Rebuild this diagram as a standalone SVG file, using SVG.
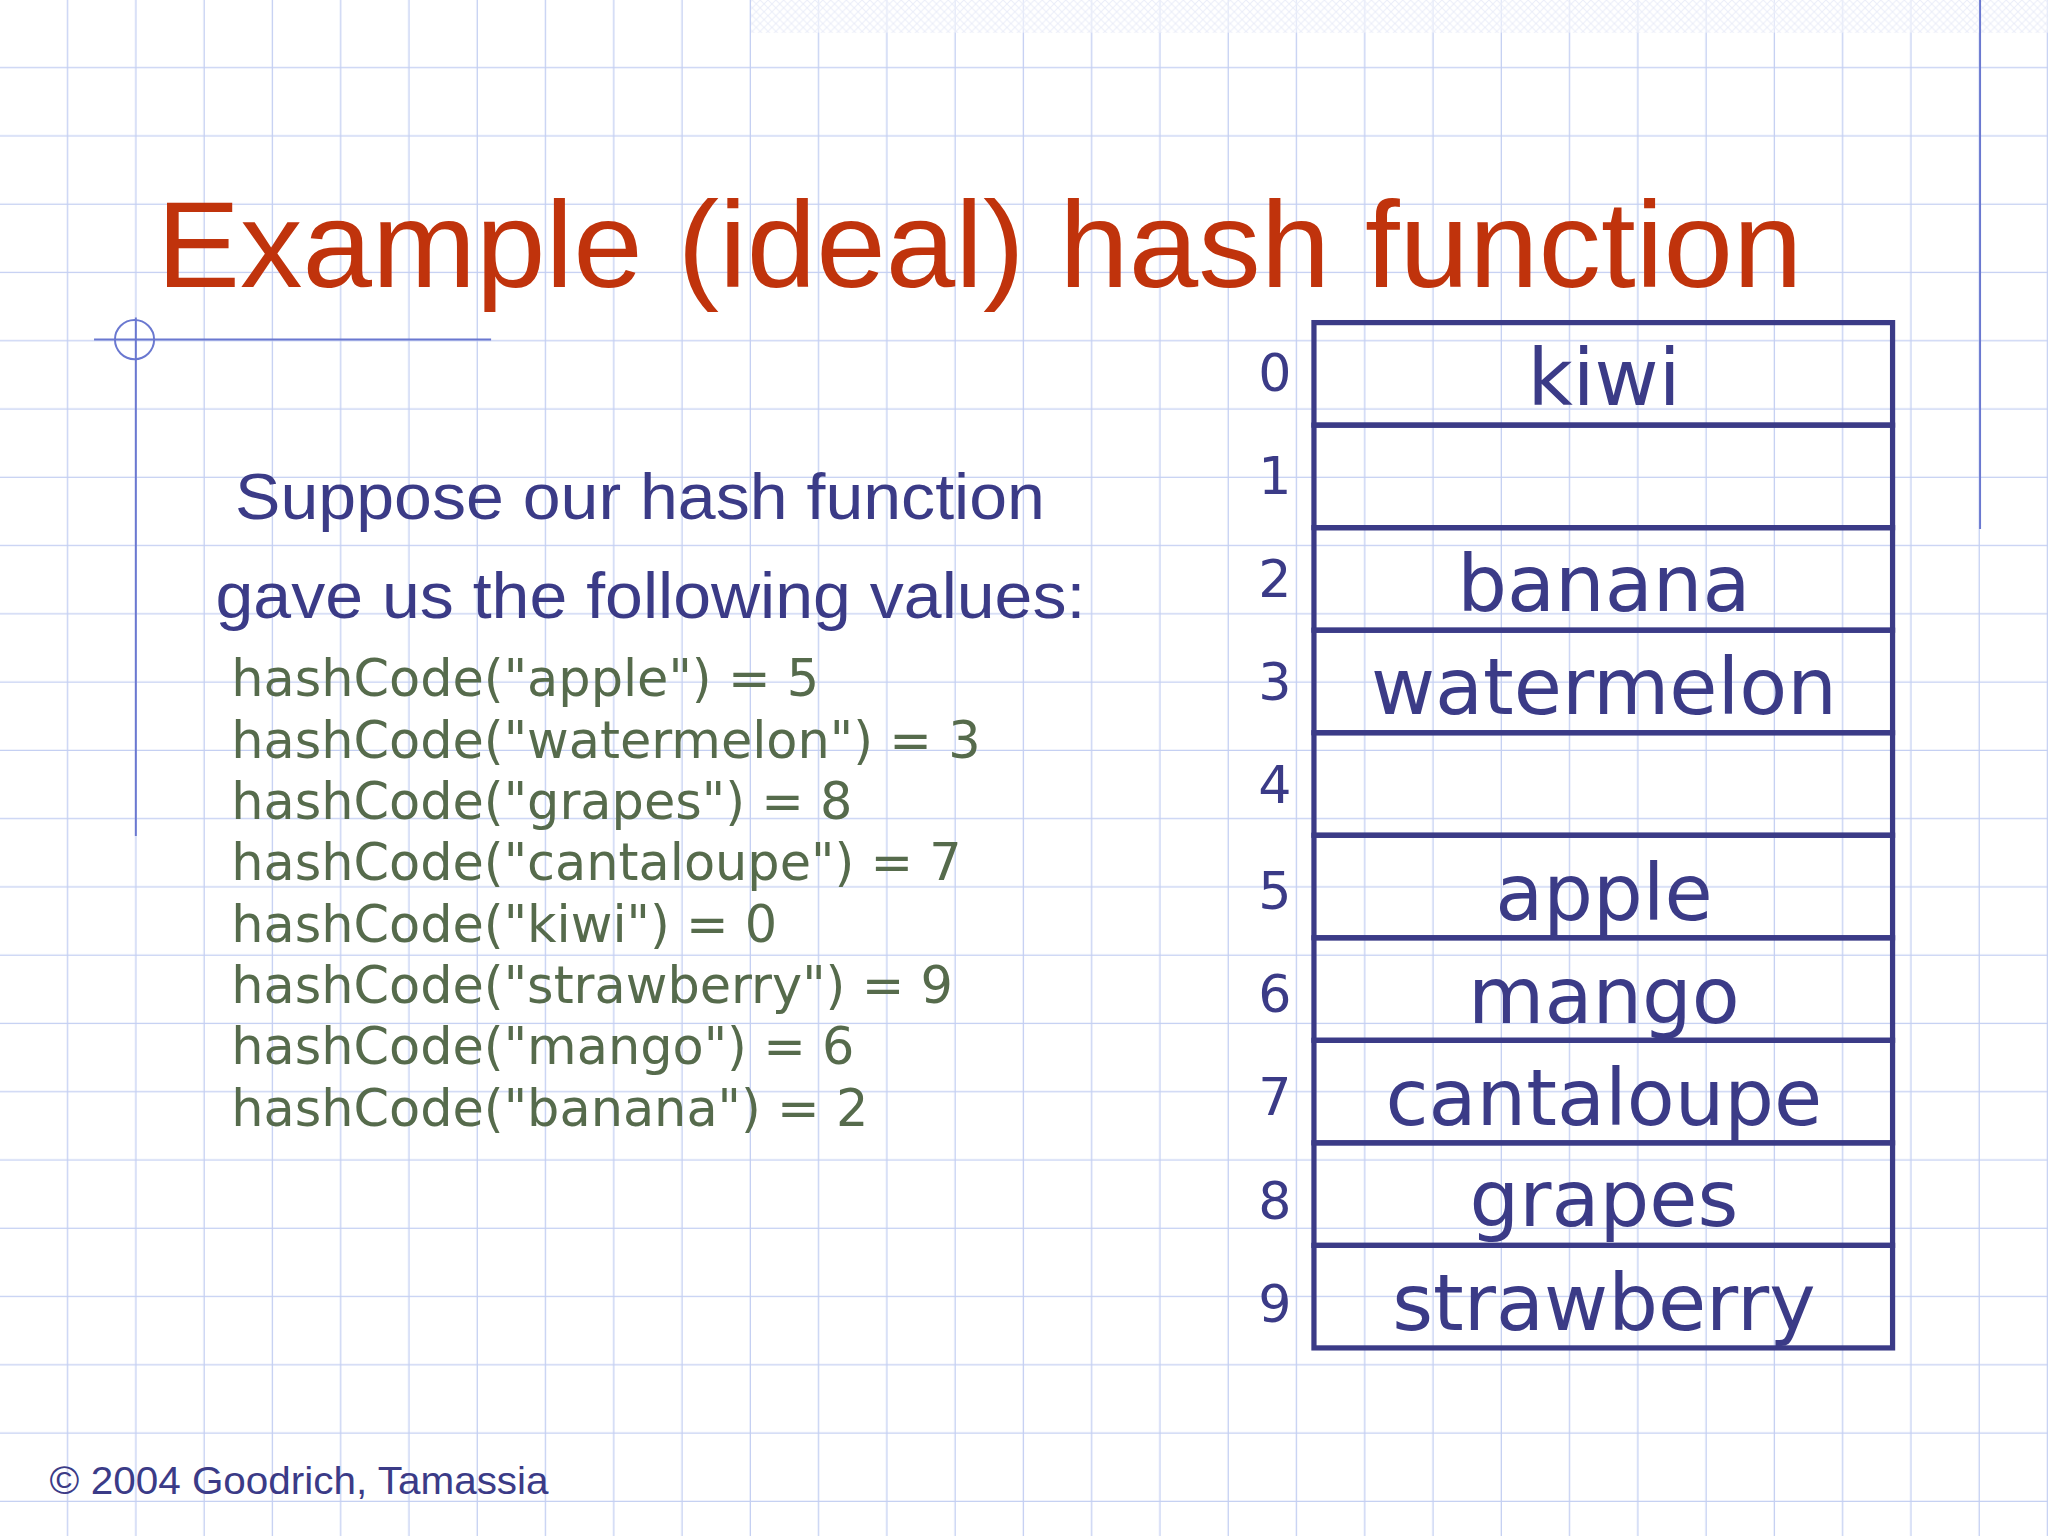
<svg xmlns="http://www.w3.org/2000/svg" width="2048" height="1536" viewBox="0 0 2048 1536">
<defs>
<pattern id="grid" width="52.27" height="52.27" patternUnits="userSpaceOnUse" x="0" y="0">
<path d="M52.27 0V52.27M0 52.27H52.27" fill="none" stroke="#c4cff2" stroke-width="2"/>
</pattern>
<pattern id="hatch" width="6" height="6" patternUnits="userSpaceOnUse">
<path d="M0 0L6 6M6 0L0 6" stroke="#d6dcf2" stroke-width="0.8"/>
</pattern>
<style>
.code{font-family:"DejaVu Sans",sans-serif;font-size:39px;fill:#566b4c}
.cell{fill:none;stroke:#3b3b87;stroke-width:4}
.lbl{font-family:"DejaVu Sans",sans-serif;font-size:60px;fill:#3b3b87;text-anchor:middle}
.idx{font-family:"DejaVu Sans",sans-serif;font-size:40px;fill:#3b3b87;text-anchor:middle}
</style>
</defs>
<rect width="2048" height="1536" fill="#fff"/>
<g transform="scale(1.30612)">
<rect width="1568" height="1176" fill="url(#grid)"/>
<rect x="575" y="0" width="993" height="25" fill="url(#hatch)"/>
<rect x="575" y="0" width="993" height="25" fill="#fff" opacity="0.5"/>
<line x1="1516" y1="0" x2="1516" y2="405" stroke="#6a78d0" stroke-width="1.5"/>
<line x1="72" y1="260" x2="376" y2="260" stroke="#6a78d0" stroke-width="1.5"/>
<line x1="104" y1="243" x2="104" y2="640" stroke="#6a78d0" stroke-width="1.5"/>
<circle cx="103" cy="260" r="15" fill="none" stroke="#6a78d0" stroke-width="1.5"/>
<text x="120" y="220" font-family="Liberation Sans, Arial, sans-serif" font-size="94" fill="#c0330c" textLength="1260" lengthAdjust="spacingAndGlyphs">Example (ideal) hash function</text>
<text x="180" y="397" font-family="Liberation Sans, Arial, sans-serif" font-size="49" fill="#3b3b87" textLength="620" lengthAdjust="spacingAndGlyphs">Suppose our hash function</text>
<text x="165" y="473" font-family="Liberation Sans, Arial, sans-serif" font-size="49" fill="#3b3b87" textLength="666" lengthAdjust="spacingAndGlyphs">gave us the following values:</text>
<g id="code">
<text class="code" x="177" y="533">hashCode("apple") = 5</text>
<text class="code" x="177" y="580">hashCode("watermelon") = 3</text>
<text class="code" x="177" y="627">hashCode("grapes") = 8</text>
<text class="code" x="177" y="674">hashCode("cantaloupe") = 7</text>
<text class="code" x="177" y="721">hashCode("kiwi") = 0</text>
<text class="code" x="177" y="768">hashCode("strawberry") = 9</text>
<text class="code" x="177" y="815">hashCode("mango") = 6</text>
<text class="code" x="177" y="862">hashCode("banana") = 2</text>
</g>
<g id="table">
<rect class="cell" x="1006" y="247" width="443" height="78.5"/>
<rect class="cell" x="1006" y="325.5" width="443" height="78.5"/>
<rect class="cell" x="1006" y="404" width="443" height="78.5"/>
<rect class="cell" x="1006" y="482.5" width="443" height="78.5"/>
<rect class="cell" x="1006" y="561" width="443" height="78.5"/>
<rect class="cell" x="1006" y="639.5" width="443" height="78.5"/>
<rect class="cell" x="1006" y="718" width="443" height="78.5"/>
<rect class="cell" x="1006" y="796.5" width="443" height="78.5"/>
<rect class="cell" x="1006" y="875" width="443" height="78.5"/>
<rect class="cell" x="1006" y="953.5" width="443" height="78.5"/>
<text class="lbl" x="1228" y="310">kiwi</text>
<text class="lbl" x="1228" y="468">banana</text>
<text class="lbl" x="1228" y="547">watermelon</text>
<text class="lbl" x="1228" y="704">apple</text>
<text class="lbl" x="1228" y="783">mango</text>
<text class="lbl" x="1228" y="861">cantaloupe</text>
<text class="lbl" x="1228" y="939">grapes</text>
<text class="lbl" x="1228" y="1018">strawberry</text>
<text class="idx" x="976" y="299">0</text>
<text class="idx" x="976" y="378">1</text>
<text class="idx" x="976" y="457">2</text>
<text class="idx" x="976" y="536">3</text>
<text class="idx" x="976" y="615">4</text>
<text class="idx" x="976" y="696">5</text>
<text class="idx" x="976" y="775">6</text>
<text class="idx" x="976" y="854">7</text>
<text class="idx" x="976" y="933">8</text>
<text class="idx" x="976" y="1012">9</text>
</g>
<text x="38" y="1144" font-family="Liberation Sans, Arial, sans-serif" font-size="29" fill="#3b3b87" textLength="382" lengthAdjust="spacingAndGlyphs">© 2004 Goodrich, Tamassia</text>
</g>
</svg>
